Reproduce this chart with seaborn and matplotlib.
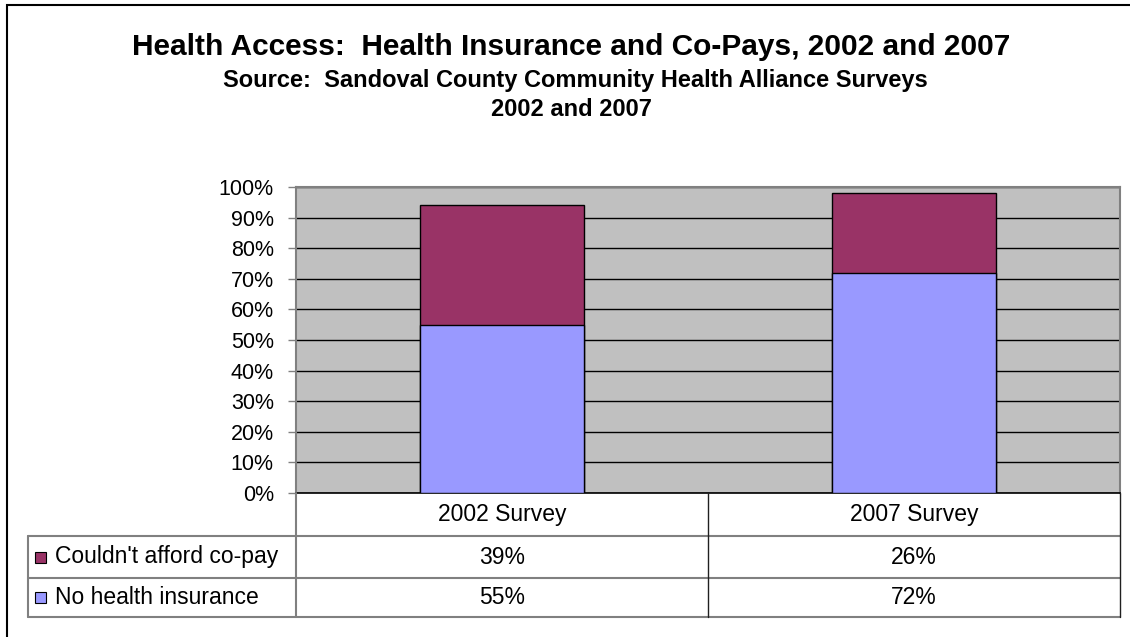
import matplotlib
matplotlib.use("Agg")
import matplotlib.pyplot as plt
from matplotlib.patches import Rectangle
import seaborn as sns
import pandas as pd

# Survey results (percent of respondents)
surveys = ["2002 Survey", "2007 Survey"]
no_insurance = [55, 72]
couldnt_afford_copay = [39, 26]
series_names = ["Couldn't afford co-pay", "No health insurance"]
y_ticks = [0, 10, 20, 30, 40, 50, 60, 70, 80, 90, 100]

title = "Health Access:  Health Insurance and Co-Pays, 2002 and 2007"
subtitle = "Source:  Sandoval County Community Health Alliance Surveys"
subtitle2 = "2002 and 2007"

MAROON = "#993366"
PERIWINKLE = "#9999FF"
PLOT_BG = "#C0C0C0"
GRAY = "#808080"

sns.set_theme(style="white")
plt.rcParams["font.family"] = ["Liberation Sans", "DejaVu Sans"]

W, H = 1130, 637
fig = plt.figure(figsize=(W / 100, H / 100), dpi=100)
fig.patch.set_facecolor("white")

def fx(px):
    return px / W

def fy(py):
    return 1 - py / H

# plot area in pixel bounds
left, right, top, bottom = 296, 1120, 187, 493
ax = fig.add_axes([fx(left), fy(bottom), fx(right - left), (bottom - top) / H])
ax.set_facecolor(PLOT_BG)

df = pd.DataFrame({
    "survey": surveys,
    "no_ins": no_insurance,
    "copay": couldnt_afford_copay,
})
df["total"] = df["no_ins"] + df["copay"]

# stacked columns: full stack in maroon, lower segment in periwinkle over it
sns.barplot(data=df, x="survey", y="total", color=MAROON, saturation=1,
            width=0.4, edgecolor="black", linewidth=1.0, ax=ax, zorder=3)
sns.barplot(data=df, x="survey", y="no_ins", color=PERIWINKLE, saturation=1,
            width=0.4, edgecolor="black", linewidth=1.0, ax=ax, zorder=4)

ax.set_xlim(-0.5, len(surveys) - 0.5)
ax.set_ylim(0, 100)
ax.set_yticks(y_ticks)
ax.set_yticklabels([f"{t}%" for t in y_ticks], fontsize=15.5, color="black")
ax.set_xticks([])
ax.set_xlabel("")
ax.set_ylabel("")
ax.yaxis.grid(True, color="black", linewidth=1.0, zorder=1)
ax.set_axisbelow(True)
ax.tick_params(axis="y", which="major", left=True, length=6, width=1,
               color=GRAY, pad=10)

for side in ["top", "right", "left"]:
    ax.spines[side].set_color(GRAY)
    ax.spines[side].set_linewidth(1.5)
ax.spines["bottom"].set_color("black")
ax.spines["bottom"].set_linewidth(1.2)

# data table below the plot area
tbl_left = 28
row_edges = [493, 536, 578, 617]
col_edges = [left, (left + right) / 2, right]

def hline(y, x0, x1, color=GRAY, lw=1.5):
    fig.add_artist(plt.Line2D([fx(x0), fx(x1)], [fy(y), fy(y)],
                              color=color, linewidth=lw))

def vline(x, y0, y1, color="#202020", lw=1.0):
    fig.add_artist(plt.Line2D([fx(x), fx(x)], [fy(y0), fy(y1)],
                              color=color, linewidth=lw))

hline(row_edges[1], tbl_left, right)
hline(row_edges[2], tbl_left, right)
hline(row_edges[3], tbl_left, right)
vline(tbl_left, row_edges[1], row_edges[3], color=GRAY, lw=1.5)
vline(left, row_edges[0], row_edges[3], color=GRAY, lw=1.5)
vline(col_edges[1], row_edges[0], row_edges[3])
vline(right, row_edges[0], row_edges[3])

col_centers = [(col_edges[i] + col_edges[i + 1]) / 2 for i in range(len(surveys))]
row_centers = [(row_edges[i] + row_edges[i + 1]) / 2 for i in range(3)]

TABLE_FS = 16.5
for cx, name in zip(col_centers, surveys):
    fig.text(fx(cx), fy(row_centers[0]), name, ha="center", va="center",
             fontsize=TABLE_FS, color="black")

table_rows = [(series_names[0], couldnt_afford_copay, MAROON),
              (series_names[1], no_insurance, PERIWINKLE)]
for (label, vals, col), cy in zip(table_rows, row_centers[1:]):
    sq = 11
    fig.add_artist(Rectangle((fx(35), fy(cy + sq / 2)), sq / W, sq / H,
                             facecolor=col, edgecolor="black", linewidth=0.8))
    fig.text(fx(55), fy(cy), label, ha="left", va="center",
             fontsize=TABLE_FS, color="black")
    for cx, v in zip(col_centers, vals):
        fig.text(fx(cx), fy(cy), f"{v}%", ha="center", va="center",
                 fontsize=TABLE_FS, color="black")

# titles
fig.text(fx(571), fy(47), title, ha="center", va="center",
         fontsize=21.5, fontweight="bold", color="black")
fig.text(fx(575), fy(81), subtitle, ha="center", va="center",
         fontsize=17, fontweight="bold", color="black")
fig.text(fx(571), fy(110), subtitle2, ha="center", va="center",
         fontsize=17, fontweight="bold", color="black")

# chart frame (top and left edges visible)
fig.add_artist(Rectangle((fx(7), fy(H + 20)), (W + 20) / W, (H + 15) / H,
                         fill=False, edgecolor="black", linewidth=1.5))

fig.savefig("out.png", dpi=100)
